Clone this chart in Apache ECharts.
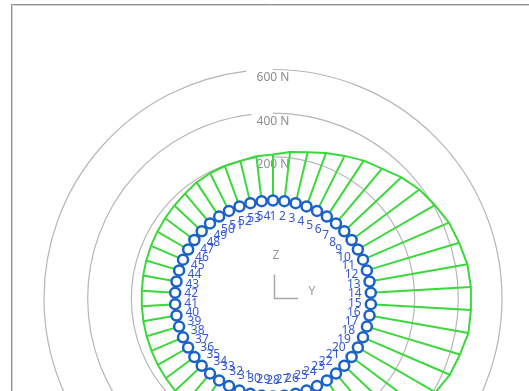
<!DOCTYPE html>
<html>
<head>
<meta charset="utf-8">
<script src="https://cdn.jsdelivr.net/npm/echarts@6/dist/echarts.min.js"></script>
<style>
  html, body { margin: 0; padding: 0; background: #fff; }
  #chart { width: 529px; height: 391px; }
</style>
</head>
<body>
<div id="chart"></div>
<script>
// Bolt numbers around the flange, clockwise from the top
const boltIds = ['1','2','3','4','5','6','7','8','9','10','11','12','13','14','15','16','17','18',
  '19','20','21','22','23','24','25','26','27','28','29','30','31','32','33','34','35','36',
  '37','38','39','40','41','42','43','44','45','46','47','48','49','50','51','52','53','54'];

// Axial bolt force per bolt (N)
const boltForces = [211, 227, 240, 260, 282, 307, 328, 360, 387, 407, 429, 441, 455, 459, 459, 460, 445, 433,
  410, 390, 363, 332, 310, 285, 262, 242, 228, 213, 207, 198, 195, 188, 180, 173, 167, 163,
  160, 157, 155, 154, 153, 153, 155, 157, 160, 163, 167, 172, 178, 188, 193, 197, 198, 207];

// Force rings (N)
const ringTicks = [0, 200, 400, 600];
const ringUnit = 'N';

const CENTER = [273, 298.5];
const GREEN = '#3bd83b';
const RING_BLUE = '#1a62c8';
const LABEL_BLUE = '#3659d2';
const GREY_TEXT = '#8c8c8c';
const FONT = '"Noto Sans", "Open Sans", sans-serif';

const spokeData = boltForces.map((f, i) => [f, i]);
const boltData = boltIds.map((id, i) => [ringTicks[0], i]);

const chart = echarts.init(document.getElementById('chart'), null, { renderer: 'canvas' });

chart.setOption({
  animation: false,
  backgroundColor: '#ffffff',
  polar: { center: CENTER, radius: [98, 229] },
  angleAxis: {
    type: 'category',
    data: boltIds,
    startAngle: 90,
    clockwise: true,
    boundaryGap: false,
    show: false
  },
  radiusAxis: {
    type: 'value',
    min: ringTicks[0],
    max: ringTicks[ringTicks.length - 1],
    interval: ringTicks[1] - ringTicks[0],
    axisLine: { show: false },
    axisTick: { show: false },
    splitLine: {
      show: true,
      lineStyle: { color: ['rgba(0,0,0,0)', '#b6b6b6', '#b6b6b6', '#b6b6b6'], width: 1.2 }
    },
    axisLabel: {
      formatter: v => (v ? v + ' ' + ringUnit : ''),
      margin: 0,
      align: 'center',
      verticalAlign: 'top',
      padding: [2, 0, 0, 0],
      color: GREY_TEXT,
      fontSize: 12,
      fontFamily: FONT
    },
    z: 0
  },
  series: [
    {
      // radial force spokes from each bolt
      type: 'custom',
      coordinateSystem: 'polar',
      silent: true,
      z: 2,
      data: spokeData,
      renderItem: (params, api) => {
        const idx = api.value(1);
        const a = api.coord([ringTicks[0], idx]);
        const b = api.coord([api.value(0), idx]);
        return {
          type: 'line',
          shape: { x1: a[0], y1: a[1], x2: b[0], y2: b[1] },
          style: { stroke: GREEN, lineWidth: 2 }
        };
      }
    },
    {
      // closed envelope joining all spoke ends
      type: 'custom',
      coordinateSystem: 'polar',
      silent: true,
      z: 2,
      data: [spokeData[0]],
      renderItem: (params, api) => {
        const pts = boltForces.map((f, k) => api.coord([f, k]));
        return {
          type: 'polygon',
          shape: { points: pts },
          style: { fill: 'none', stroke: GREEN, lineWidth: 2, lineJoin: 'round' }
        };
      }
    },
    {
      // bolt positions
      type: 'scatter',
      coordinateSystem: 'polar',
      silent: true,
      z: 3,
      data: boltData,
      symbol: 'circle',
      symbolSize: 10,
      itemStyle: { color: '#ffffff', borderColor: RING_BLUE, borderWidth: 2.5, opacity: 1 }
    },
    {
      // bolt numbers, set just inside the bolt circle
      type: 'custom',
      coordinateSystem: 'polar',
      silent: true,
      z: 4,
      data: boltData,
      renderItem: (params, api) => {
        const idx = api.value(1);
        const p = api.coord([ringTicks[0], idx]);
        const cs = params.coordSys;
        const dx = p[0] - cs.cx, dy = p[1] - cs.cy;
        const len = Math.hypot(dx, dy) || 1;
        const inset = 16;
        return {
          type: 'text',
          x: p[0] - dx / len * inset,
          y: p[1] - dy / len * inset,
          style: {
            text: boltIds[idx],
            fill: LABEL_BLUE,
            font: '12px ' + FONT,
            align: 'center',
            verticalAlign: 'middle',
            textAlign: 'center',
            textVerticalAlign: 'middle'
          }
        };
      }
    }
  ],
  graphic: [
    {
      type: 'rect', silent: true, z: -10,
      shape: { x: 11.5, y: 4.5, width: 700, height: 600 },
      style: { fill: 'none', stroke: '#8e8e8e', lineWidth: 1 }
    },
    {
      type: 'rect', silent: true, z: -10,
      shape: { x: 12.5, y: 5.5, width: 700, height: 600 },
      style: { fill: 'none', stroke: '#d6d6d6', lineWidth: 1 }
    },
    {
      type: 'polyline', silent: true,
      shape: { points: [[CENTER[0] + 1.5, CENTER[1] - 24], [CENTER[0] + 1.5, CENTER[1]], [CENTER[0] + 25, CENTER[1]]] },
      style: { stroke: '#a9a9a9', lineWidth: 1.5, fill: 'none' }
    },
    {
      type: 'text', silent: true,
      x: CENTER[0] + 3, y: CENTER[1] - 43,
      style: { text: 'Z', fill: '#9a9a9a', font: '12px ' + FONT, align: 'center', verticalAlign: 'middle', textAlign: 'center', textVerticalAlign: 'middle' }
    },
    {
      type: 'text', silent: true,
      x: CENTER[0] + 39, y: CENTER[1] - 7,
      style: { text: 'Y', fill: '#9a9a9a', font: '12px ' + FONT, align: 'center', verticalAlign: 'middle', textAlign: 'center', textVerticalAlign: 'middle' }
    }
  ]
});
</script>
</body>
</html>
